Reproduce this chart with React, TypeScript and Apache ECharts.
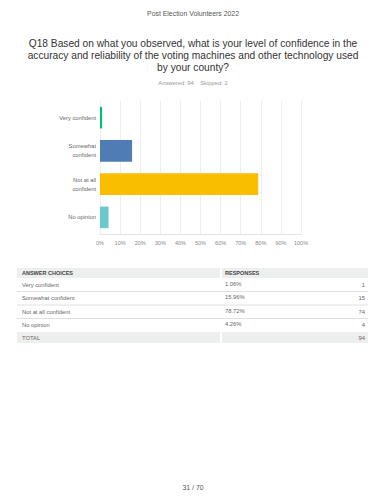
import React, { useEffect, useRef } from "react";
import * as echarts from "echarts";

const pageHeader = "Post Election Volunteers 2022";
const titleLines = [
  "Q18 Based on what you observed, what is your level of confidence in the",
  "accuracy and reliability of the voting machines and other technology used",
  "by your county?",
];
const answeredText = "Answered: 94    Skipped: 2";
const categories = ["Very confident", "Somewhat confident", "Not at all confident", "No opinion"];
const axisLabels = ["Very confident", "Somewhat\nconfident", "Not at all\nconfident", "No opinion"];
const percents = [1.06, 15.96, 78.72, 4.26];
const percentLabels = ["1.06%", "15.96%", "78.72%", "4.26%"];
const counts = [1, 15, 74, 4];
const total = 94;
const colors = ["#00BF6F", "#507CB6", "#F9BE00", "#6BC8CD"];
const pageFooter = "31 / 70";

const FONT = "'Liberation Sans', Arial, sans-serif";

export default function App() {
  const ref = useRef<HTMLDivElement>(null);
  useEffect(() => {
    document.body.style.margin = "0";
    const chart = echarts.init(ref.current!, null, { renderer: "svg" });
    const tX0 = 17, tX1 = 368, colGap0 = 220, colGap1 = 222;
    const headerTop = 268, rowH = 13.5, headerH = 10;
    const graphics: any[] = [];
    graphics.push({ type: "text", x: 193, y: 13.5, style: { text: pageHeader, fontSize: 6.9, fill: "#555", fontFamily: FONT, align: "center", verticalAlign: "middle" } });
    graphics.push({
      type: "text", x: 193, y: 55, style: { text: titleLines.join("\n"), fontSize: 10.2, lineHeight: 12, fill: "#333", fontFamily: FONT, align: "center", verticalAlign: "middle" },
    });
    graphics.push({ type: "text", x: 193, y: 83, style: { text: answeredText, fontSize: 5.8, fill: "#999", fontFamily: FONT, align: "center", verticalAlign: "middle" } });
    // table header
    graphics.push({ type: "rect", shape: { x: tX0, y: headerTop, width: colGap0 - tX0, height: headerH }, style: { fill: "#EDEEEE" } });
    graphics.push({ type: "rect", shape: { x: colGap1, y: headerTop, width: tX1 - colGap1, height: headerH }, style: { fill: "#EDEEEE" } });
    graphics.push({ type: "text", x: 22, y: headerTop + headerH / 2, style: { text: "ANSWER CHOICES", fontSize: 5.5, fontWeight: "bold", fill: "#444", fontFamily: FONT, verticalAlign: "middle" } });
    graphics.push({ type: "text", x: 225, y: headerTop + headerH / 2, style: { text: "RESPONSES", fontSize: 5.5, fontWeight: "bold", fill: "#444", fontFamily: FONT, verticalAlign: "middle" } });
    const rowsTop = headerTop + headerH;
    categories.forEach((c, i) => {
      const y0 = rowsTop + i * rowH;
      const cy = y0 + rowH / 2;
      graphics.push({ type: "text", x: 22, y: cy, style: { text: c, fontSize: 5.8, fill: "#666", fontFamily: FONT, verticalAlign: "middle" } });
      graphics.push({ type: "text", x: 225, y: cy - 1, style: { text: percentLabels[i], fontSize: 5.8, fill: "#666", fontFamily: FONT, verticalAlign: "middle" } });
      graphics.push({ type: "text", x: 365, y: cy, style: { text: String(counts[i]), fontSize: 5.8, fill: "#666", fontFamily: FONT, align: "right", verticalAlign: "middle" } });
      if (i > 0) {
        graphics.push({ type: "line", shape: { x1: tX0, y1: y0, x2: tX1, y2: y0 }, style: { stroke: "#E0E0E0", lineWidth: 1 } });
      }
    });
    const totTop = rowsTop + categories.length * rowH;
    graphics.push({ type: "rect", shape: { x: tX0, y: totTop, width: colGap0 - tX0, height: headerH + 1 }, style: { fill: "#EDEEEE" } });
    graphics.push({ type: "rect", shape: { x: colGap1, y: totTop, width: tX1 - colGap1, height: headerH + 1 }, style: { fill: "#EDEEEE" } });
    graphics.push({ type: "text", x: 22, y: totTop + 5.5, style: { text: "TOTAL", fontSize: 5.8, fill: "#666", fontFamily: FONT, verticalAlign: "middle" } });
    graphics.push({ type: "text", x: 365, y: totTop + 5.5, style: { text: String(total), fontSize: 5.8, fill: "#666", fontFamily: FONT, align: "right", verticalAlign: "middle" } });
    graphics.push({ type: "text", x: 193, y: 487, style: { text: pageFooter, fontSize: 6.9, fill: "#555", fontFamily: FONT, align: "center", verticalAlign: "middle" } });

    chart.setOption({
      animation: false,
      grid: { left: 100, right: 85, top: 101, bottom: 266, containLabel: false },
      xAxis: {
        type: "value", min: 0, max: 100, interval: 10,
        axisLabel: { formatter: "{value}%", fontSize: 5.5, color: "#888", fontFamily: FONT, margin: 6 },
        splitLine: { show: true, lineStyle: { color: "#EEEEEE", width: 1 } },
        axisLine: { show: true, lineStyle: { color: "#E3E3E3" } },
        axisTick: { show: false },
      },
      yAxis: {
        type: "category", inverse: true, data: axisLabels,
        axisLabel: { fontSize: 5.8, color: "#666", fontFamily: FONT, margin: 4, lineHeight: 9, align: "right" },
        axisLine: { show: false }, axisTick: { show: false },
      },
      series: [{
        type: "bar", barCategoryGap: "35%",
        data: percents.map((v, i) => ({ value: v, itemStyle: { color: colors[i] } })),
      }],
      graphic: graphics,
    });
    return () => chart.dispose();
  }, []);
  return <div ref={ref} style={{ width: 386, height: 500 }} />;
}
